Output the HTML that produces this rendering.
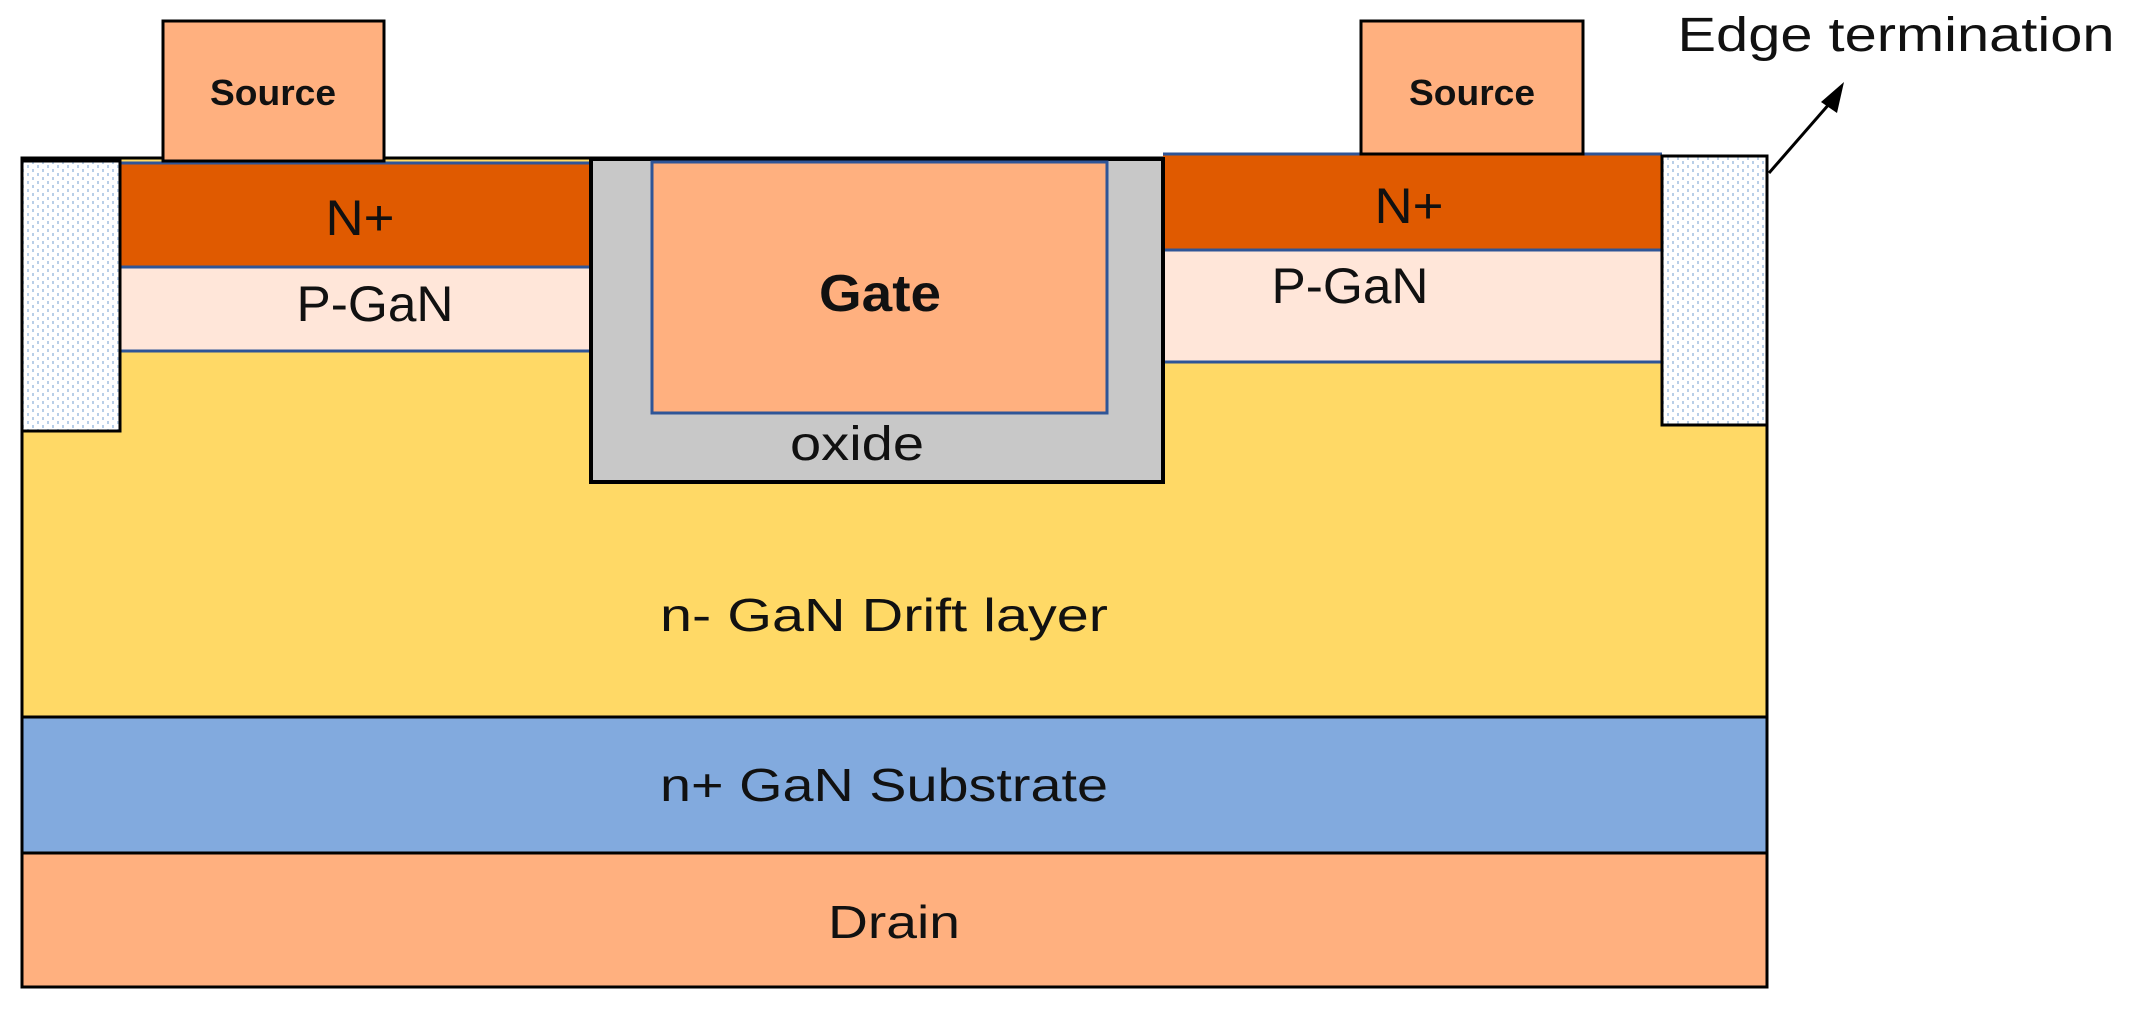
<!DOCTYPE html>
<html><head><meta charset="utf-8"><style>html,body{margin:0;padding:0;background:#fff}svg{display:block}</style></head>
<body>
<svg width="2130" height="1013" viewBox="0 0 2130 1013" xmlns="http://www.w3.org/2000/svg" font-family="Liberation Sans, sans-serif">
<defs>
<pattern id="dots" width="10" height="8" patternUnits="userSpaceOnUse">
<rect width="10" height="8" fill="#fff"/>
<rect x="2" y="1" width="2" height="3" fill="#b9cfe8"/>
<rect x="7" y="5" width="2" height="3" fill="#b9cfe8"/>
</pattern>
</defs>
<!-- yellow drift body -->
<rect x="22" y="158" width="1745" height="559" fill="#FFD966" stroke="#000" stroke-width="3"/>
<!-- substrate -->
<rect x="22" y="717" width="1745" height="136" fill="#82AADE" stroke="#000" stroke-width="3"/>
<!-- drain -->
<rect x="22" y="853" width="1745" height="134" fill="#FFB07F" stroke="#000" stroke-width="3"/>
<!-- left N+ / P-GaN -->
<rect x="120" y="163" width="470" height="104" fill="#E05A00"/>
<rect x="120" y="267" width="470" height="84" fill="#FFE6D9"/>
<line x1="120" y1="163" x2="590" y2="163" stroke="#2F5597" stroke-width="3"/>
<line x1="120" y1="267" x2="590" y2="267" stroke="#2F5597" stroke-width="3"/>
<line x1="120" y1="351" x2="590" y2="351" stroke="#2F5597" stroke-width="3"/>
<!-- right N+ / P-GaN -->
<rect x="1163" y="154" width="499" height="96" fill="#E05A00"/>
<rect x="1163" y="250" width="499" height="112" fill="#FFE6D9"/>
<line x1="1163" y1="154" x2="1662" y2="154" stroke="#2F5597" stroke-width="3"/>
<line x1="1163" y1="250" x2="1662" y2="250" stroke="#2F5597" stroke-width="3"/>
<line x1="1163" y1="362" x2="1662" y2="362" stroke="#2F5597" stroke-width="3"/>
<!-- edge terminations -->
<rect x="22" y="161" width="98" height="270" fill="url(#dots)" stroke="#000" stroke-width="3"/>
<rect x="1662" y="156" width="105" height="269" fill="url(#dots)" stroke="#000" stroke-width="3"/>
<!-- oxide / gate -->
<rect x="591" y="159" width="572" height="323" fill="#C8C8C8" stroke="#000" stroke-width="4"/>
<rect x="652" y="162" width="455" height="251" fill="#FFB07F" stroke="#2F5597" stroke-width="3"/>
<!-- sources -->
<rect x="163" y="21" width="221" height="140" fill="#FFB07F" stroke="#000" stroke-width="3"/>
<rect x="1361" y="21" width="222" height="133" fill="#FFB07F" stroke="#000" stroke-width="3"/>
<!-- arrow -->
<line x1="1769" y1="173" x2="1830" y2="103" stroke="#000" stroke-width="3"/>
<polygon points="1844,82 1821,102 1837,113" fill="#000"/>
<!-- text -->
<g fill="#111" text-anchor="middle">
<text x="273" y="105" font-size="36" font-weight="bold" textLength="126" lengthAdjust="spacingAndGlyphs">Source</text>
<text x="1472" y="105" font-size="36" font-weight="bold" textLength="126" lengthAdjust="spacingAndGlyphs">Source</text>
<text x="360" y="235" font-size="50" textLength="69" lengthAdjust="spacingAndGlyphs">N+</text>
<text x="1409" y="223" font-size="50" textLength="69" lengthAdjust="spacingAndGlyphs">N+</text>
<text x="375" y="321" font-size="50" textLength="157" lengthAdjust="spacingAndGlyphs">P-GaN</text>
<text x="1350" y="303" font-size="50" textLength="157" lengthAdjust="spacingAndGlyphs">P-GaN</text>
<text x="880" y="311" font-size="52" font-weight="bold" textLength="122" lengthAdjust="spacingAndGlyphs">Gate</text>
<text x="857" y="460" font-size="48" textLength="134" lengthAdjust="spacingAndGlyphs">oxide</text>
<text x="884" y="631" font-size="46" textLength="448" lengthAdjust="spacingAndGlyphs">n- GaN Drift layer</text>
<text x="884" y="801" font-size="46" textLength="448" lengthAdjust="spacingAndGlyphs">n+ GaN Substrate</text>
<text x="894" y="938" font-size="46" textLength="132" lengthAdjust="spacingAndGlyphs">Drain</text>
<text x="1896" y="51" font-size="48" textLength="437" lengthAdjust="spacingAndGlyphs">Edge termination</text>
</g>
</svg>
</body></html>
